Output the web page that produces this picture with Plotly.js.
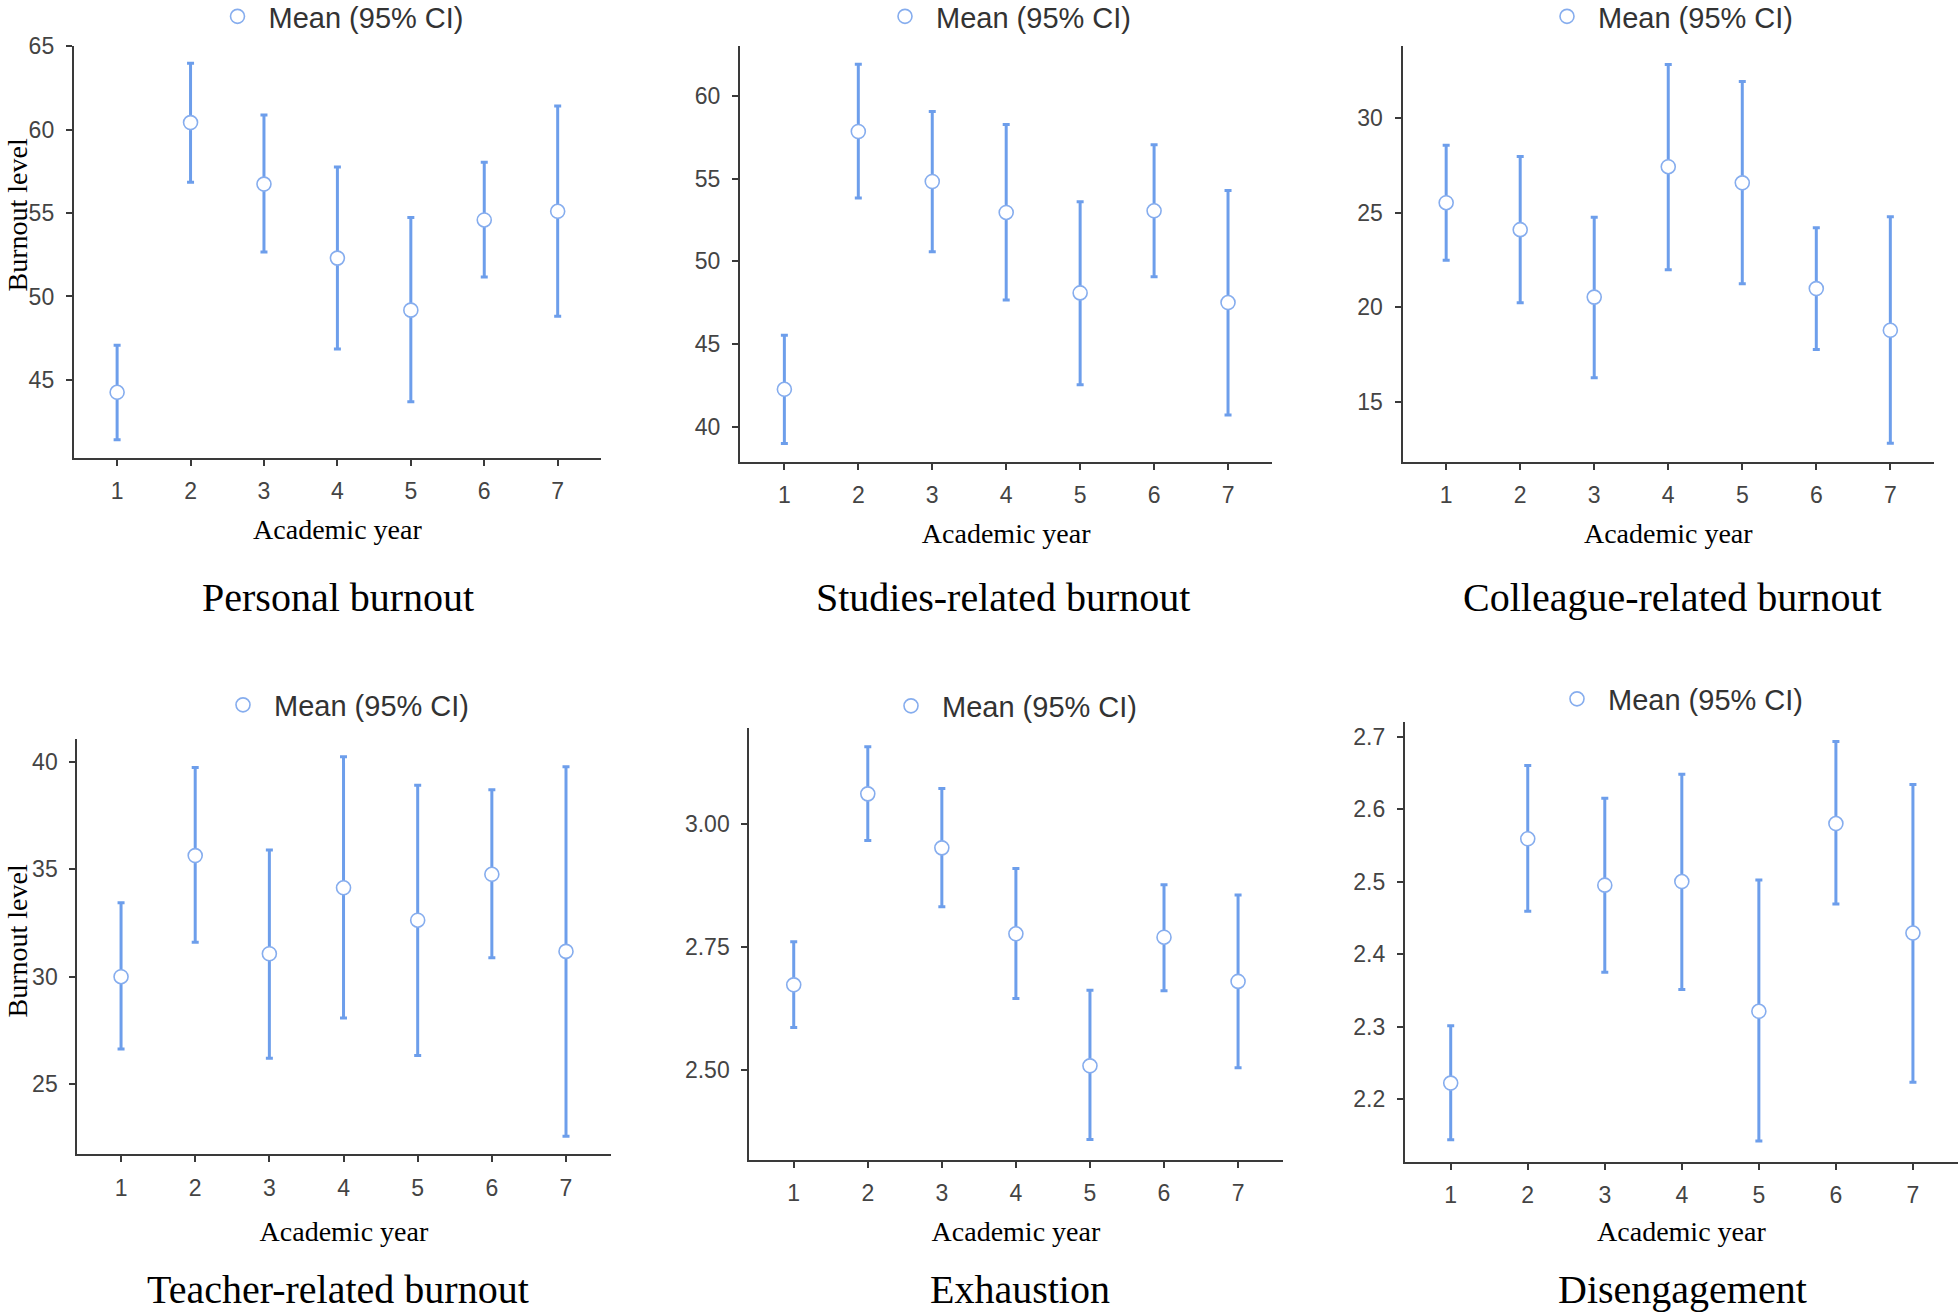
<!DOCTYPE html>
<html>
<head>
<meta charset="utf-8">
<script src="https://cdn.plot.ly/plotly-3.0.1.min.js"></script>
<style>html,body{margin:0;padding:0;background:#fff}#chart{width:1960px;height:1313px}</style>
</head>
<body>
<div id="chart"></div>
<script>
// ---- Data ----
const years = [1, 2, 3, 4, 5, 6, 7];

const personalMean  = [44.25, 60.43, 56.74, 52.30, 49.18, 54.59, 55.11];
const personalLower = [41.40, 56.85, 52.66, 46.85, 43.69, 51.16, 48.82];
const personalUpper = [47.08, 63.99, 60.88, 57.77, 54.74, 58.05, 61.42];

const studiesMean  = [42.27, 57.84, 54.82, 52.95, 48.09, 53.05, 47.51];
const studiesLower = [38.99, 53.83, 50.57, 47.66, 42.55, 49.06, 40.71];
const studiesUpper = [45.54, 61.90, 59.05, 58.27, 53.59, 57.04, 54.28];

const colleagueMean  = [25.52, 24.10, 20.54, 27.42, 26.57, 20.99, 18.79];
const colleagueLower = [22.48, 20.24, 16.28, 21.99, 21.24, 17.77, 12.83];
const colleagueUpper = [28.55, 27.96, 24.76, 32.81, 31.92, 24.20, 24.78];

const teacherMean  = [30.00, 35.64, 31.07, 34.14, 32.63, 34.77, 31.18];
const teacherLower = [26.64, 31.60, 26.20, 28.08, 26.33, 30.88, 22.58];
const teacherUpper = [33.44, 39.74, 35.90, 40.24, 38.91, 38.70, 39.77];

const exhaustionMean  = [2.673, 3.062, 2.952, 2.777, 2.508, 2.770, 2.680];
const exhaustionLower = [2.586, 2.967, 2.832, 2.645, 2.358, 2.661, 2.504];
const exhaustionUpper = [2.761, 3.158, 3.073, 2.910, 2.662, 2.877, 2.856];

const disengagementMean  = [2.222, 2.559, 2.495, 2.500, 2.321, 2.580, 2.429];
const disengagementLower = [2.144, 2.459, 2.375, 2.351, 2.142, 2.469, 2.223];
const disengagementUpper = [2.301, 2.660, 2.615, 2.648, 2.502, 2.693, 2.634];

const panelTitles = ["Personal burnout", "Studies-related burnout", "Colleague-related burnout",
                     "Teacher-related burnout", "Exhaustion", "Disengagement"];
const legendLabel = "Mean (95% CI)";
const xTitle = "Academic year";
const yTitle = "Burnout level";

const yTicks1 = [45, 50, 55, 60, 65];
const yTicks2 = [40, 45, 50, 55, 60];
const yTicks3 = [15, 20, 25, 30];
const yTicks4 = [25, 30, 35, 40];
const yTicks5 = [2.50, 2.75, 3.00];
const yTicks6 = [2.2, 2.3, 2.4, 2.5, 2.6, 2.7];

// ---- Layout geometry (pixels in a 1960x1313 page) ----
const W = 1960, H = 1313;
const panels = [
  {mean: personalMean, lo: personalLower, hi: personalUpper, box: [73.8, 601, 46.4, 457.5], xr: [0.41, 7.59], yr: [40.34, 65], ticks: yTicks1, fmt: "", leg: [237.5, 16.5], xt: 16},
  {mean: studiesMean, lo: studiesLower, hi: studiesUpper, box: [740, 1272.4, 46.4, 461.8], xr: [0.40, 7.60], yr: [37.89, 62.98], ticks: yTicks2, fmt: "", leg: [905, 16.5], xt: 16},
  {mean: colleagueMean, lo: colleagueLower, hi: colleagueUpper, box: [1402.5, 1934, 46.4, 461.8], xr: [0.41, 7.59], yr: [11.85, 33.77], ticks: yTicks3, fmt: "", leg: [1567, 16.5], xt: 16},
  {mean: teacherMean, lo: teacherLower, hi: teacherUpper, box: [77.3, 610.5, 738.5, 1154.4], xr: [0.41, 7.60], yr: [21.73, 41.09], ticks: yTicks4, fmt: "", leg: [243, 705], xt: 21},
  {mean: exhaustionMean, lo: exhaustionLower, hi: exhaustionUpper, box: [749.3, 1282.5, 727.6, 1159.6], xr: [0.40, 7.60], yr: [2.317, 3.197], ticks: yTicks5, fmt: ".2f", leg: [911, 706], xt: 16},
  {mean: disengagementMean, lo: disengagementLower, hi: disengagementUpper, box: [1404.8, 1958, 721.6, 1161.6], xr: [0.404, 7.585], yr: [2.1137, 2.7206], ticks: yTicks6, fmt: ".1f", leg: [1577, 699], xt: 14}
];
const titlePos = [[337.5, 597.5], [1002.5, 597.5], [1672.5, 597.5], [338, 1289.6], [1019.7, 1289.6], [1682.3, 1289.6]];
const yTitlePos = [[0, 215], [0, 941]];

const barColor = "#6d9eeb";
const markerLine = "#86adee";
const axisColor = "#3a3a3a";
const sans = "Liberation Sans, Arial, sans-serif";
const serif = "Liberation Serif, Times New Roman, serif";

const data = [];
const layout = {
  width: W, height: H,
  margin: {l: 0, r: 0, t: 0, b: 0, pad: 0, autoexpand: false},
  paper_bgcolor: "#fff", plot_bgcolor: "#fff",
  showlegend: true,
  annotations: []
};

panels.forEach((p, i) => {
  const n = i + 1;
  const sfx = n === 1 ? "" : String(n);
  const legName = n === 1 ? "legend" : "legend" + n;
  data.push({
    type: "scatter", mode: "markers",
    x: years, y: p.mean,
    name: legendLabel,
    xaxis: "x" + sfx, yaxis: "y" + sfx,
    legend: legName,
    marker: {symbol: "circle", size: 14, color: "#ffffff", line: {color: markerLine, width: 1.6}},
    error_y: {
      type: "data", symmetric: false,
      array: p.hi.map((v, k) => v - p.mean[k]),
      arrayminus: p.mean.map((v, k) => v - p.lo[k]),
      color: barColor, thickness: 3, width: 3.5
    },
    hoverinfo: "x+y"
  });
  const [x0, x1, y0, y1] = p.box;
  layout["xaxis" + sfx] = {
    domain: [x0 / W, x1 / W], range: p.xr, anchor: "y" + sfx,
    tickvals: years, ticks: "outside", ticklen: 6, tickwidth: 2, tickcolor: axisColor,
    showline: true, linecolor: axisColor, linewidth: 2,
    showgrid: false, zeroline: false, fixedrange: true, automargin: false,
    ticklabelstandoff: 6,
    tickfont: {family: sans, size: 23, color: "#444"},
    title: {text: xTitle, standoff: p.xt, font: {family: serif, size: 28, color: "#000"}}
  };
  layout["yaxis" + sfx] = {
    domain: [1 - y1 / H, 1 - y0 / H], range: p.yr, anchor: "x" + sfx,
    tickvals: p.ticks, tickformat: p.fmt, ticks: "outside", ticklen: 6, tickwidth: 2, tickcolor: axisColor,
    showline: true, linecolor: axisColor, linewidth: 2,
    showgrid: false, zeroline: false, fixedrange: true, automargin: false,
    ticklabelstandoff: 7,
    tickfont: {family: sans, size: 23, color: "#444"}
  };
  layout[legName] = {
    x: (p.leg[0] - 31) / W, y: 1 - p.leg[1] / H,
    xanchor: "left", yanchor: "middle",
    orientation: "h", itemwidth: 52,
    bgcolor: "rgba(0,0,0,0)", borderwidth: 0,
    font: {family: sans, size: 29, color: "#333"}
  };
  layout.annotations.push({
    text: panelTitles[i], xref: "paper", yref: "paper",
    x: titlePos[i][0] / W, y: 1 - titlePos[i][1] / H,
    xanchor: "center", yanchor: "middle", showarrow: false,
    font: {family: serif, size: 40, color: "#000"}
  });
});

yTitlePos.forEach(pos => {
  layout.annotations.push({
    text: yTitle, xref: "paper", yref: "paper",
    x: pos[0] / W, y: 1 - pos[1] / H,
    xanchor: "left", yanchor: "middle", textangle: -90, showarrow: false,
    borderpad: 0,
    font: {family: serif, size: 28, color: "#000"}
  });
});

Plotly.newPlot("chart", data, layout, {displayModeBar: false, staticPlot: true});
</script>
</body>
</html>
